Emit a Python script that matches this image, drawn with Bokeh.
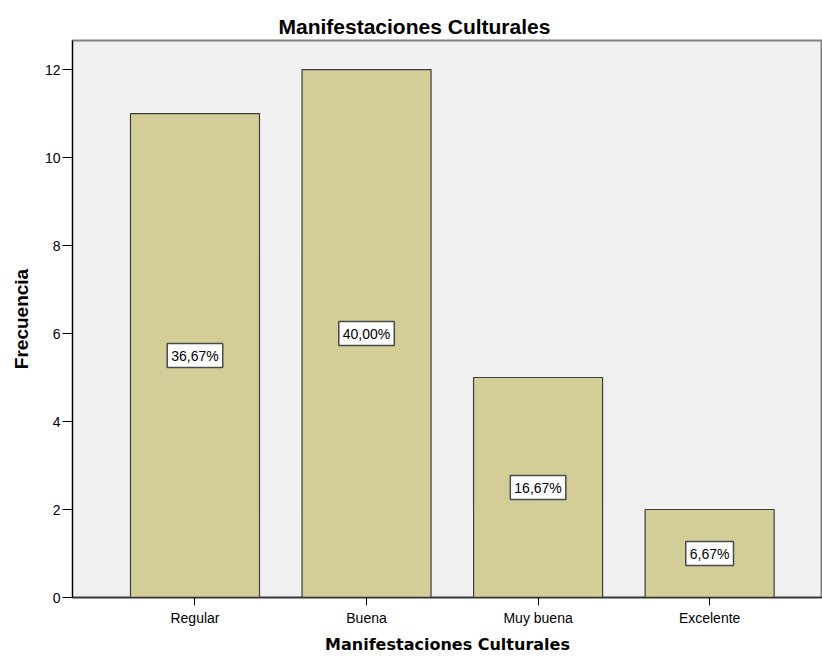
from bokeh.plotting import figure
from bokeh.models import Range1d, FixedTicker, Label
from bokeh.embed import file_html
from bokeh.resources import INLINE

categories = ["Regular", "Buena", "Muy buena", "Excelente"]
counts = [11, 12, 5, 2]
percent_labels = ["36,67%", "40,00%", "16,67%", "6,67%"]
y_ticks = [0, 2, 4, 6, 8, 10, 12]

xs = list(range(len(categories)))

p = figure(width=822, height=656, output_backend="svg", toolbar_location=None,
           x_range=Range1d(-0.714, 3.658), y_range=Range1d(0, 12.66),
           min_border_left=72, min_border_right=0, min_border_top=40, min_border_bottom=59)

p.background_fill_color = "#F0F0F0"
p.border_fill_color = "white"
p.outline_line_color = "#808080"
p.outline_line_width = 2
p.xgrid.visible = False
p.ygrid.visible = False

p.vbar(x=xs, top=counts, width=0.752, bottom=0,
       fill_color="#D3CE97", line_color="#3C3C3C", line_width=1.2)

for xi, c, t in zip(xs, counts, percent_labels):
    p.add_layout(Label(x=xi, y=c / 2, text=t, text_align="center", text_baseline="middle",
                       text_font="Liberation Sans", text_font_size="14px", text_color="black",
                       background_fill_color="white", border_line_color="#4A4A4A",
                       border_line_width=1.5, padding=4))

p.title.text = "Manifestaciones Culturales"
p.title.text_font = "Liberation Sans"
p.title.text_font_size = "21px"
p.title.text_font_style = "bold"
p.title.text_color = "black"
p.title.align = "left"
p.title.offset = 206
p.title.standoff = 5

p.xaxis.ticker = FixedTicker(ticks=xs)
p.xaxis.major_label_overrides = {i: c for i, c in zip(xs, categories)}
p.xaxis.axis_label = "Manifestaciones Culturales"
p.xaxis.axis_label_text_font = "DejaVu Sans"
p.xaxis.axis_label_text_font_size = "16px"
p.xaxis.axis_label_text_font_style = "bold"
p.xaxis.axis_label_standoff = 6
p.xaxis.major_tick_out = 8
p.xaxis.major_tick_in = 0
p.xaxis.minor_tick_line_color = None
p.xaxis.major_label_standoff = 4
p.xaxis.axis_line_color = "#333333"
p.xaxis.axis_line_width = 1.5

p.yaxis.ticker = FixedTicker(ticks=y_ticks)
p.yaxis.axis_label = "Frecuencia"
p.yaxis.axis_label_text_font = "Liberation Sans"
p.yaxis.axis_label_text_font_size = "19px"
p.yaxis.axis_label_text_font_style = "bold"
p.yaxis.axis_label_standoff = 10
p.yaxis.major_tick_out = 10
p.yaxis.major_tick_in = 0
p.yaxis.minor_tick_line_color = None
p.yaxis.major_label_standoff = 2
p.yaxis.axis_line_color = "black"

for ax in (p.xaxis, p.yaxis):
    ax.major_label_text_font = "Liberation Sans"
    ax.major_label_text_font_size = "14px"
    ax.major_label_text_color = "black"
    ax.axis_label_text_color = "black"
    ax.major_tick_line_color = "black"

open("out.html", "w").write(file_html(p, INLINE))
